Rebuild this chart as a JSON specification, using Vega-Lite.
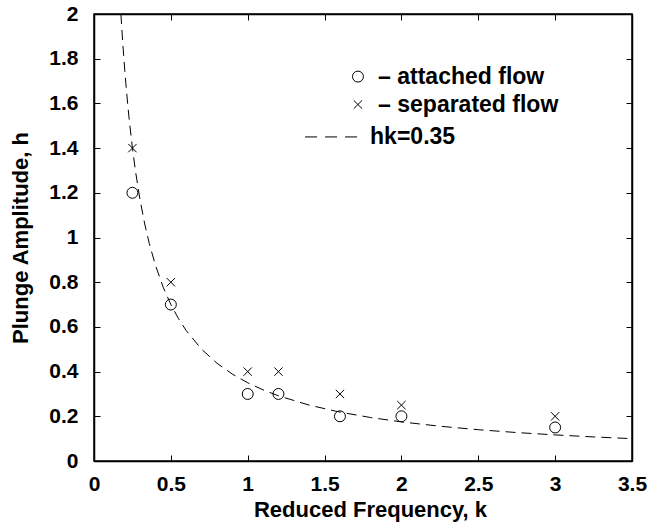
{
  "$schema": "https://vega.github.io/schema/vega-lite/v6.json",
  "autosize": "none",
  "width": 538,
  "height": 447,
  "padding": {"left": 94, "top": 14, "right": 16, "bottom": 68},
  "background": "white",
  "config": {
    "view": {"stroke": "black", "strokeWidth": 1.5},
    "font": "Liberation Sans",
    "axis": {
      "grid": false,
      "domainColor": "black",
      "domainWidth": 1.5,
      "tickColor": "black",
      "tickSize": -6,
      "format": ".1~f",
      "labelFont": "Liberation Sans",
      "labelFontWeight": "bold",
      "labelFontSize": 21,
      "labelColor": "black",
      "titleFont": "Liberation Sans",
      "titleFontWeight": "bold",
      "titleFontSize": 22,
      "titleColor": "black"
    }
  },
  "datasets": {
    "curve": [
      {"k": 0.175, "h": 2.0}, {"k": 0.18, "h": 1.9444}, {"k": 0.19, "h": 1.8421}, {"k": 0.2, "h": 1.75},
      {"k": 0.21, "h": 1.6667}, {"k": 0.22, "h": 1.5909}, {"k": 0.23, "h": 1.5217}, {"k": 0.25, "h": 1.4},
      {"k": 0.27, "h": 1.2963}, {"k": 0.3, "h": 1.1667}, {"k": 0.33, "h": 1.0606}, {"k": 0.36, "h": 0.9722},
      {"k": 0.4, "h": 0.875}, {"k": 0.45, "h": 0.7778}, {"k": 0.5, "h": 0.7}, {"k": 0.55, "h": 0.6364},
      {"k": 0.6, "h": 0.5833}, {"k": 0.7, "h": 0.5}, {"k": 0.8, "h": 0.4375}, {"k": 0.9, "h": 0.3889},
      {"k": 1.0, "h": 0.35}, {"k": 1.1, "h": 0.3182}, {"k": 1.2, "h": 0.2917}, {"k": 1.4, "h": 0.25},
      {"k": 1.6, "h": 0.21875}, {"k": 1.8, "h": 0.1944}, {"k": 2.0, "h": 0.175}, {"k": 2.25, "h": 0.1556},
      {"k": 2.5, "h": 0.14}, {"k": 2.75, "h": 0.1273}, {"k": 3.0, "h": 0.1167}, {"k": 3.25, "h": 0.1077},
      {"k": 3.5, "h": 0.1}
    ],
    "attached": [
      {"k": 0.25, "h": 1.2}, {"k": 0.5, "h": 0.7}, {"k": 1.0, "h": 0.3}, {"k": 1.2, "h": 0.3},
      {"k": 1.6, "h": 0.2}, {"k": 2.0, "h": 0.2}, {"k": 3.0, "h": 0.15}
    ],
    "separated": [
      {"k": 0.25, "h": 1.4}, {"k": 0.5, "h": 0.8}, {"k": 1.0, "h": 0.4}, {"k": 1.2, "h": 0.4},
      {"k": 1.6, "h": 0.3}, {"k": 2.0, "h": 0.25}, {"k": 3.0, "h": 0.2}
    ],
    "legendPts": [
      {"k": 1.717, "h": 1.72, "s": "circle"},
      {"k": 1.717, "h": 1.595, "s": "cross"}
    ],
    "legendLine": [
      {"k": 1.373, "h": 1.45}, {"k": 1.717, "h": 1.45}
    ],
    "legendText": [
      {"k": 1.848, "h": 1.72, "t": "– attached flow"},
      {"k": 1.848, "h": 1.595, "t": "– separated flow"},
      {"k": 1.796, "h": 1.45, "t": "hk=0.35"}
    ]
  },
  "layer": [
    {
      "data": {"name": "curve"},
      "mark": {"type": "line", "color": "black", "strokeWidth": 1, "strokeDash": [10, 6], "clip": true},
      "encoding": {
        "x": {"field": "k", "type": "quantitative", "scale": {"domain": [0, 3.5], "nice": false},
          "axis": {"title": "Reduced Frequency, k", "values": [0, 0.5, 1, 1.5, 2, 2.5, 3, 3.5], "labelPadding": 18, "titlePadding": 5, "titleX": 276, "labelFlush": false}},
        "y": {"field": "h", "type": "quantitative", "scale": {"domain": [0, 2], "nice": false},
          "axis": {"title": "Plunge Amplitude, h", "values": [0, 0.2, 0.4, 0.6, 0.8, 1, 1.2, 1.4, 1.6, 1.8, 2], "labelPadding": 22, "titlePadding": 16, "labelFlush": false}}
      }
    },
    {
      "data": {"name": "attached"},
      "mark": {"type": "point", "shape": "circle", "size": 120, "stroke": "black", "strokeWidth": 1, "filled": false, "opacity": 1},
      "encoding": {
        "x": {"field": "k", "type": "quantitative", "axis": {"orient": "top", "labels": false, "title": null, "values": [0, 0.5, 1, 1.5, 2, 2.5, 3, 3.5]}},
        "y": {"field": "h", "type": "quantitative", "axis": {"orient": "right", "labels": false, "title": null, "values": [0, 0.2, 0.4, 0.6, 0.8, 1, 1.2, 1.4, 1.6, 1.8, 2]}}
      }
    },
    {
      "data": {"name": "separated"},
      "mark": {"type": "point", "shape": "M-1,-1L1,1M1,-1L-1,1", "size": 70, "stroke": "black", "strokeWidth": 1, "filled": false, "opacity": 1},
      "encoding": {
        "x": {"field": "k", "type": "quantitative", "axis": null},
        "y": {"field": "h", "type": "quantitative", "axis": null}
      }
    },
    {
      "data": {"name": "legendPts"},
      "mark": {"type": "point", "stroke": "black", "strokeWidth": 1, "filled": false, "opacity": 1},
      "encoding": {
        "x": {"field": "k", "type": "quantitative", "axis": null},
        "y": {"field": "h", "type": "quantitative", "axis": null},
        "shape": {"field": "s", "type": "nominal", "scale": {"domain": ["circle", "cross"], "range": ["circle", "M-1,-1L1,1M1,-1L-1,1"]}, "legend": null},
        "size": {"field": "s", "type": "nominal", "scale": {"domain": ["circle", "cross"], "range": [120, 70]}, "legend": null}
      }
    },
    {
      "data": {"name": "legendLine"},
      "mark": {"type": "line", "color": "black", "strokeWidth": 1, "strokeDash": [12, 8]},
      "encoding": {
        "x": {"field": "k", "type": "quantitative", "axis": null},
        "y": {"field": "h", "type": "quantitative", "axis": null}
      }
    },
    {
      "data": {"name": "legendText"},
      "mark": {"type": "text", "align": "left", "baseline": "middle", "font": "Liberation Sans", "fontWeight": "bold", "fontSize": 23, "color": "black"},
      "encoding": {
        "x": {"field": "k", "type": "quantitative", "axis": null},
        "y": {"field": "h", "type": "quantitative", "axis": null},
        "text": {"field": "t", "type": "nominal"}
      }
    }
  ],
  "resolve": {"axis": {"x": "independent", "y": "independent"}}
}
